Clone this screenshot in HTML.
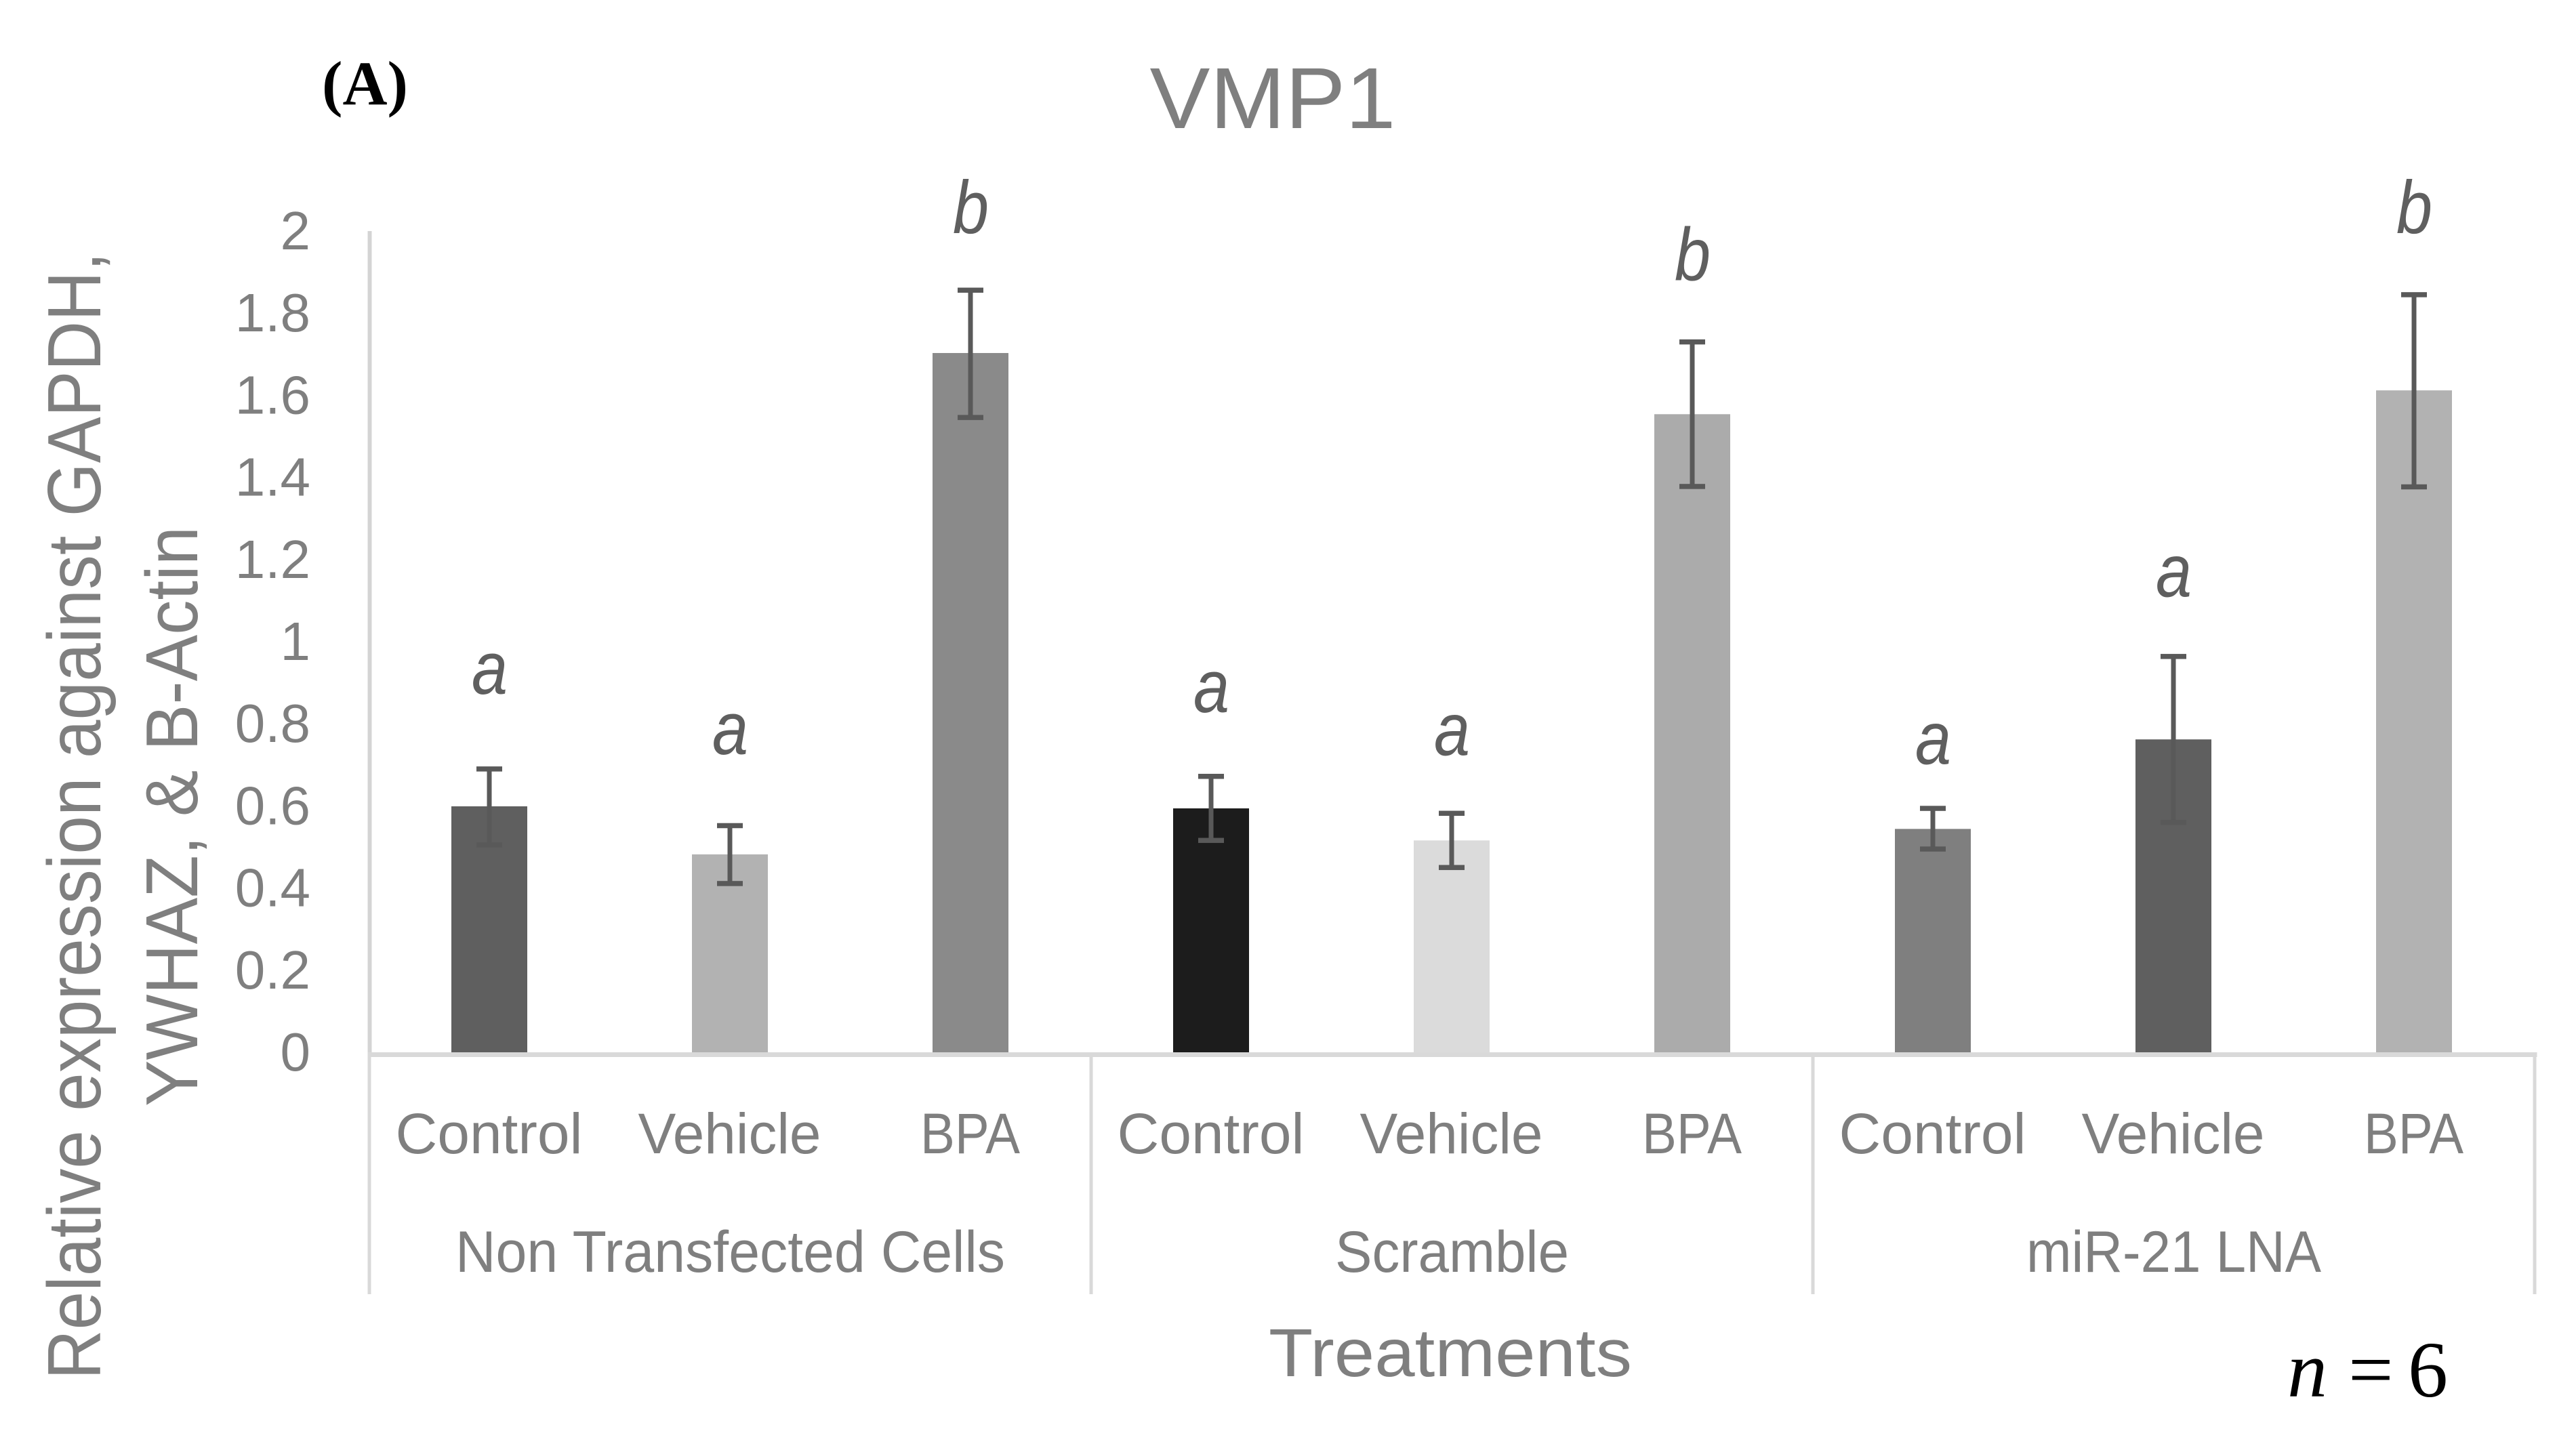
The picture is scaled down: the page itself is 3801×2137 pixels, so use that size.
<!DOCTYPE html>
<html lang="en">
<head>
<meta charset="utf-8">
<title>VMP1 relative expression chart</title>
<style>
html,body{margin:0;padding:0;background:#fff;}
svg{display:block;}
text{font-family:"Liberation Sans",sans-serif;fill:#7f7f7f;}
.serif{font-family:"Liberation Serif",serif;fill:#000;}
</style>
</head>
<body>
<svg id="chart" xmlns="http://www.w3.org/2000/svg" width="3801" height="2137" viewBox="0 0 3801 2137">
  <rect x="0" y="0" width="3801" height="2137" fill="#ffffff"/>
  <text class="serif" x="475" y="154" font-size="92" font-weight="bold" textLength="127" lengthAdjust="spacingAndGlyphs">(A)</text>
  <text x="1878" y="189" font-size="128" text-anchor="middle" textLength="363" lengthAdjust="spacingAndGlyphs">VMP1</text>
  <text transform="translate(148,2036) rotate(-90)" font-size="111" textLength="1664" lengthAdjust="spacingAndGlyphs">Relative expression against GAPDH,</text>
  <text transform="translate(291,1633) rotate(-90)" font-size="109" textLength="856" lengthAdjust="spacingAndGlyphs">YWHAZ, &amp; B-Actin</text>
  <text x="2140" y="2031" font-size="100" text-anchor="middle" textLength="536" lengthAdjust="spacingAndGlyphs">Treatments</text>
  <text class="serif" y="2061" font-size="118"><tspan x="3375" font-style="italic">n</tspan><tspan x="3465">=</tspan><tspan x="3553">6</tspan></text>
  <g id="y-axis"></g>
  <g id="bars"></g>
  <g id="errors"></g>
  <g id="letters"></g>
  <g id="x-axis"></g>
</svg>
<script>
// ---- chart data ----
const treatments = ["Control", "Vehicle", "BPA", "Control", "Vehicle", "BPA", "Control", "Vehicle", "BPA"];
const groups = ["Non Transfected Cells", "Scramble", "miR-21 LNA"];
const means = [0.599, 0.482, 1.703, 0.594, 0.516, 1.554, 0.544, 0.762, 1.612];
const errorUpper = [0.690, 0.552, 1.856, 0.672, 0.582, 1.730, 0.594, 0.964, 1.845];
const errorLower = [0.505, 0.411, 1.546, 0.516, 0.450, 1.378, 0.495, 0.560, 1.377];
const letters = ["a", "a", "b", "a", "a", "b", "a", "a", "b"];
const letterLevels = [0.873, 0.726, 1.995, 0.828, 0.724, 1.880, 0.702, 1.110, 1.995];
const yTicks = [0, 0.2, 0.4, 0.6, 0.8, 1, 1.2, 1.4, 1.6, 1.8, 2];

// ---- styling ----
const barFills = ["#5f5f5f", "#b2b2b2", "#8a8a8a", "#1c1c1c", "#dbdbdb", "#ababab", "#7f7f7f", "#5f5f5f", "#b2b2b2"];
const treatmentFit = {Control: 276, Vehicle: 270, BPA: 147};
const groupFit = {"Non Transfected Cells": 811, "Scramble": 345, "miR-21 LNA": 435};

// ---- axis functions ----
const NS = "http://www.w3.org/2000/svg";
const plotLeft = 545, slot = 355, baseY = 1553, pxPerUnit = 606;
const xScale = i => plotLeft + slot * (i + 0.5);
const yScale = v => baseY - v * pxPerUnit;
const AXIS = "#d9d9d9", ERR = "#595959";

function makeRect(parent, x, y, w, h, fill) {
  const r = document.createElementNS(NS, "rect");
  r.setAttribute("x", x);
  r.setAttribute("y", y);
  r.setAttribute("width", w);
  r.setAttribute("height", h);
  r.setAttribute("fill", fill);
  parent.appendChild(r);
  return r;
}
function makeText(parent, str, x, y, size, anchor) {
  const t = document.createElementNS(NS, "text");
  t.setAttribute("x", x);
  t.setAttribute("y", y);
  t.setAttribute("font-size", size);
  t.setAttribute("text-anchor", anchor);
  t.textContent = str;
  parent.appendChild(t);
  return t;
}

const yG = document.getElementById("y-axis");
const barG = document.getElementById("bars");
const errG = document.getElementById("errors");
const letG = document.getElementById("letters");
const xG = document.getElementById("x-axis");

// y axis line and ticks
const yLine = makeRect(yG, plotLeft - 2.5, yScale(2), 6, baseY - yScale(2) + 4, "#d4d4d4");


yTicks.forEach(v => {
  const t = makeText(yG, String(v), 458, yScale(v) + 27, 80, "end");
  
  
});

// bars, error bars, letters
means.forEach((m, i) => {
  const cx = xScale(i);
  const bar = makeRect(barG, cx - 56.5, yScale(m), 112, baseY - yScale(m) + 1, barFills[i]);
  
  

  const top = yScale(errorUpper[i]), bottom = yScale(errorLower[i]);
  const stem = makeRect(errG, cx - 4, top, 7, bottom - top, ERR);
  
  
  const capTop = makeRect(errG, cx - 19.5, top - 3.75, 38, 7.5, ERR);
  
  
  const capBottom = makeRect(errG, cx - 19.5, bottom - 3.75, 38, 7.5, ERR);
  
  

  const l = makeText(letG, letters[i], cx, yScale(letterLevels[i]), 110, "middle");
  l.setAttribute("font-style", "italic");
  l.setAttribute("textLength", 53);
  l.setAttribute("lengthAdjust", "spacingAndGlyphs");
  l.style.fill = "#5f5f5f";
  
  

  const c = makeText(xG, treatments[i], cx - 1, 1702, 84, "middle");
  c.setAttribute("textLength", treatmentFit[treatments[i]]);
  c.setAttribute("lengthAdjust", "spacingAndGlyphs");
  
  
});

// x axis line, group separators and group labels
const xLine = makeRect(xG, plotLeft - 2.5, baseY, slot * means.length + 6, 7, AXIS);


const perGroup = means.length / groups.length;
for (let g = 0; g <= groups.length; g++) {
  const sx = plotLeft + g * perGroup * slot;
  const sep = makeRect(xG, sx - 2.5, baseY, 5, 357, AXIS);
  
  
}
groups.forEach((name, g) => {
  const cx = plotLeft + (g + 0.5) * perGroup * slot;
  const t = makeText(xG, name, cx, 1877, 86, "middle");
  t.setAttribute("textLength", groupFit[name]);
  t.setAttribute("lengthAdjust", "spacingAndGlyphs");
  
  
});
</script>
</body>
</html>
